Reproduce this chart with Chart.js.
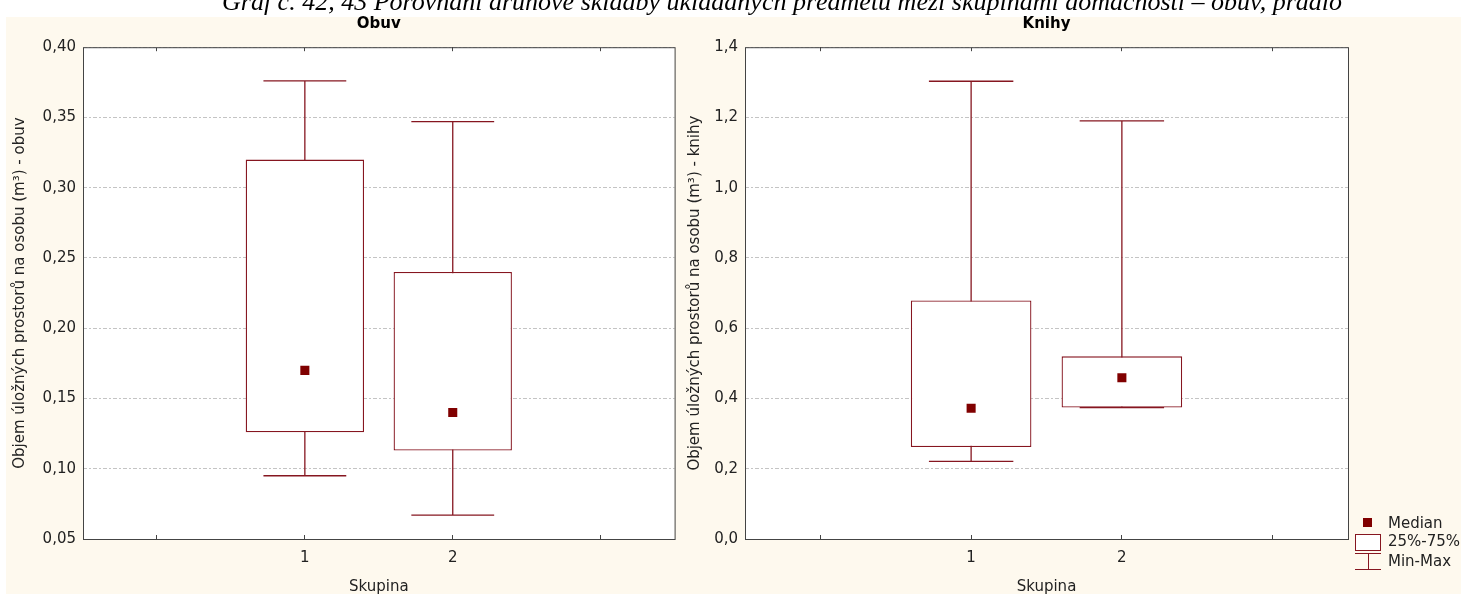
<!DOCTYPE html>
<html lang="cs">
<head>
<meta charset="utf-8">
<title>Graf č. 42, 43</title>
<script src="https://cdn.jsdelivr.net/npm/chart.js@4/dist/chart.umd.min.js"></script>
<style>
	body{margin:0;width:1461px;height:594px;overflow:hidden;background:#fff;position:relative;font-family:'DejaVu Sans',sans-serif;color:#222;}
	#nadpis{position:absolute;left:222px;top:-11px;white-space:nowrap;font:italic 26px/26px 'Liberation Serif',serif;color:#000;z-index:2;}
	#panel{position:absolute;left:6px;top:17px;right:0;bottom:0;background:#fef9ee;}
	canvas{position:absolute;top:0;}
	#g1{left:0;}
	#g2{left:680px;}
	.leg{position:absolute;left:1388px;font-size:15px;line-height:16px;white-space:nowrap;}
	.sym{position:absolute;}
</style>
</head>
<body>
<div id="panel"></div>
<div id="nadpis">Graf č. 42, 43 Porovnání druhové skladby ukládaných předmětů mezi skupinami domácností – obuv, prádlo</div>
<canvas id="g1" width="681" height="596"></canvas>
<canvas id="g2" width="781" height="596"></canvas>

<!-- legenda -->
<div class="sym" style="left:1363px;top:518px;width:9px;height:9px;background:#800000;"></div>
<div class="leg" style="top:515px;">Median</div>
<div class="sym" style="left:1355px;top:534px;width:26px;height:17px;box-sizing:border-box;border:1px solid #861620;background:#fff;"></div>
<div class="leg" style="top:533px;">25%-75%</div>
<div class="sym" style="left:1355px;top:553px;width:26px;height:1px;background:#861620;"></div>
<div class="sym" style="left:1368px;top:553px;width:1px;height:16px;background:#861620;"></div>
<div class="sym" style="left:1355px;top:569px;width:26px;height:1px;background:#861620;"></div>
<div class="leg" style="top:553px;">Min-Max</div>

<script>
// data
var skupiny = ['1', '2'];

var obuvMin    = [0.095, 0.067];
var obuvQ1     = [0.126, 0.113];
var obuvMedian = [0.170, 0.140];
var obuvQ3     = [0.320, 0.240];
var obuvMax    = [0.376, 0.347];

var knihyMin    = [0.221, 0.374];
var knihyQ1     = [0.262, 0.374];
var knihyMedian = [0.372, 0.459];
var knihyQ3     = [0.679, 0.520];
var knihyMax    = [1.303, 1.190];

// osa y: min, max, krok
var obuvOsa  = [0.05, 0.40, 0.05];
var knihyOsa = [0.0, 1.4, 0.2];

var barva = '#861620';
var ramBarva = '#444';
var pismo = {family: "'DejaVu Sans', sans-serif", size: 15};

// bile pozadi grafu + ramecek
var ramecek = {
	id: 'ramecek',
	beforeDraw: function(chart) {
		var a = chart.chartArea, c = chart.ctx;
		c.save();
		c.fillStyle = '#fff';
		c.fillRect(a.left, a.top, a.right - a.left, a.bottom - a.top);
		c.restore();
	},
	afterDraw: function(chart) {
		var a = chart.chartArea, c = chart.ctx;
		c.save();
		c.strokeStyle = ramBarva;
		c.lineWidth = 1;
		c.strokeRect(a.left + 0.5, a.top + 0.5, a.right - a.left, a.bottom - a.top);
		c.restore();
	}
};

function kresliGraf(id, nazev, popisY, min, q1, med, q3, max, osa, desetin, sirkaY, padTitulY, padPravy) {
	var popisky = [''].concat(skupiny).concat(['']);
	var sady = [];

	// fousy min-max (pod krabici)
	for (var i = 0; i < skupiny.length; i++) {
		sady.push({
			type: 'line',
			data: [{x: skupiny[i], y: min[i]}, {x: skupiny[i], y: max[i]}],
			borderColor: barva,
			borderWidth: 1.3,
			pointRadius: 0,
			order: 4
		});
	}

	// krabice 25%-75%
	sady.push({
		type: 'bar',
		data: [null].concat(skupiny.map(function(s, i) { return [q1[i], q3[i]]; })).concat([null]),
		backgroundColor: '#fff',
		borderColor: barva,
		borderWidth: 1.3,
		borderSkipped: false,
		barPercentage: 0.8,
		categoryPercentage: 1,
		order: 3
	});

	// koncove carky
	var carky = [];
	skupiny.forEach(function(s, i) {
		carky.push({x: s, y: min[i]});
		carky.push({x: s, y: max[i]});
	});
	sady.push({
		type: 'line',
		showLine: false,
		data: carky,
		pointStyle: 'line',
		pointRadius: function(ctx) { return ctx.chart.scales.x.width / popisky.length * 0.28; },
		pointBorderColor: barva,
		pointBorderWidth: 1.3,
		order: 2
	});

	// median
	sady.push({
		type: 'line',
		showLine: false,
		data: skupiny.map(function(s, i) { return {x: s, y: med[i]}; }),
		pointStyle: 'rect',
		pointRadius: 6.4,
		pointBackgroundColor: '#800000',
		pointBorderWidth: 0,
		order: 1
	});

	return new Chart(document.getElementById(id), {
		type: 'bar',
		data: {labels: popisky, datasets: sady},
		plugins: [ramecek],
		options: {
			responsive: false,
			animation: false,
			events: [],
			layout: {padding: {left: 0, right: padPravy, top: 0, bottom: 0}},
			plugins: {
				legend: {display: false},
				tooltip: {enabled: false},
				title: {
					display: true,
					text: nazev,
					fullSize: false,
					color: '#000',
					font: {family: pismo.family, size: 15, weight: 'bold'},
					padding: {top: 15, bottom: 14.2}
				}
			},
			scales: {
				x: {
					type: 'category',
					position: 'bottom',
					offset: true,
					grid: {offset: false, drawOnChartArea: false, drawTicks: true, tickLength: -4, color: ramBarva},
					border: {display: false},
					ticks: {font: pismo, color: '#222', padding: 14, autoSkip: false, maxRotation: 0},
					title: {display: true, text: 'Skupina', font: pismo, color: '#222', padding: {top: 0, bottom: 0}},
					afterFit: function(s) { s.height = 57; }
				},
				x2: {
					type: 'category',
					position: 'top',
					offset: true,
					grid: {offset: false, drawOnChartArea: false, drawTicks: true, tickLength: -4, color: ramBarva},
					border: {display: false},
					ticks: {display: false},
					afterFit: function(s) { s.height = 0; }
				},
				y: {
					min: osa[0],
					max: osa[1],
					grid: {drawTicks: false, color: '#c4c4c4'},
					border: {display: false, dash: [4, 2, 2, 2]},
					ticks: {
						stepSize: osa[2],
						font: pismo,
						color: '#222',
						padding: 7,
						callback: function(v) { return v.toFixed(desetin).replace('.', ','); }
					},
					title: {display: true, text: popisY, font: pismo, color: '#222', padding: {top: padTitulY, bottom: 0}},
					afterFit: function(s) { s.width = sirkaY; }
				}
			}
		}
	});
}

kresliGraf('g1', 'Obuv', 'Objem úložných prostorů na osobu (m³) - obuv',
	obuvMin, obuvQ1, obuvMedian, obuvQ3, obuvMax, obuvOsa, 2, 83, 11.6, 6);
kresliGraf('g2', 'Knihy', 'Objem úložných prostorů na osobu (m³) - knihy',
	knihyMin, knihyQ1, knihyMedian, knihyQ3, knihyMax, knihyOsa, 1, 65, 6.6, 113);
</script>
</body>
</html>
